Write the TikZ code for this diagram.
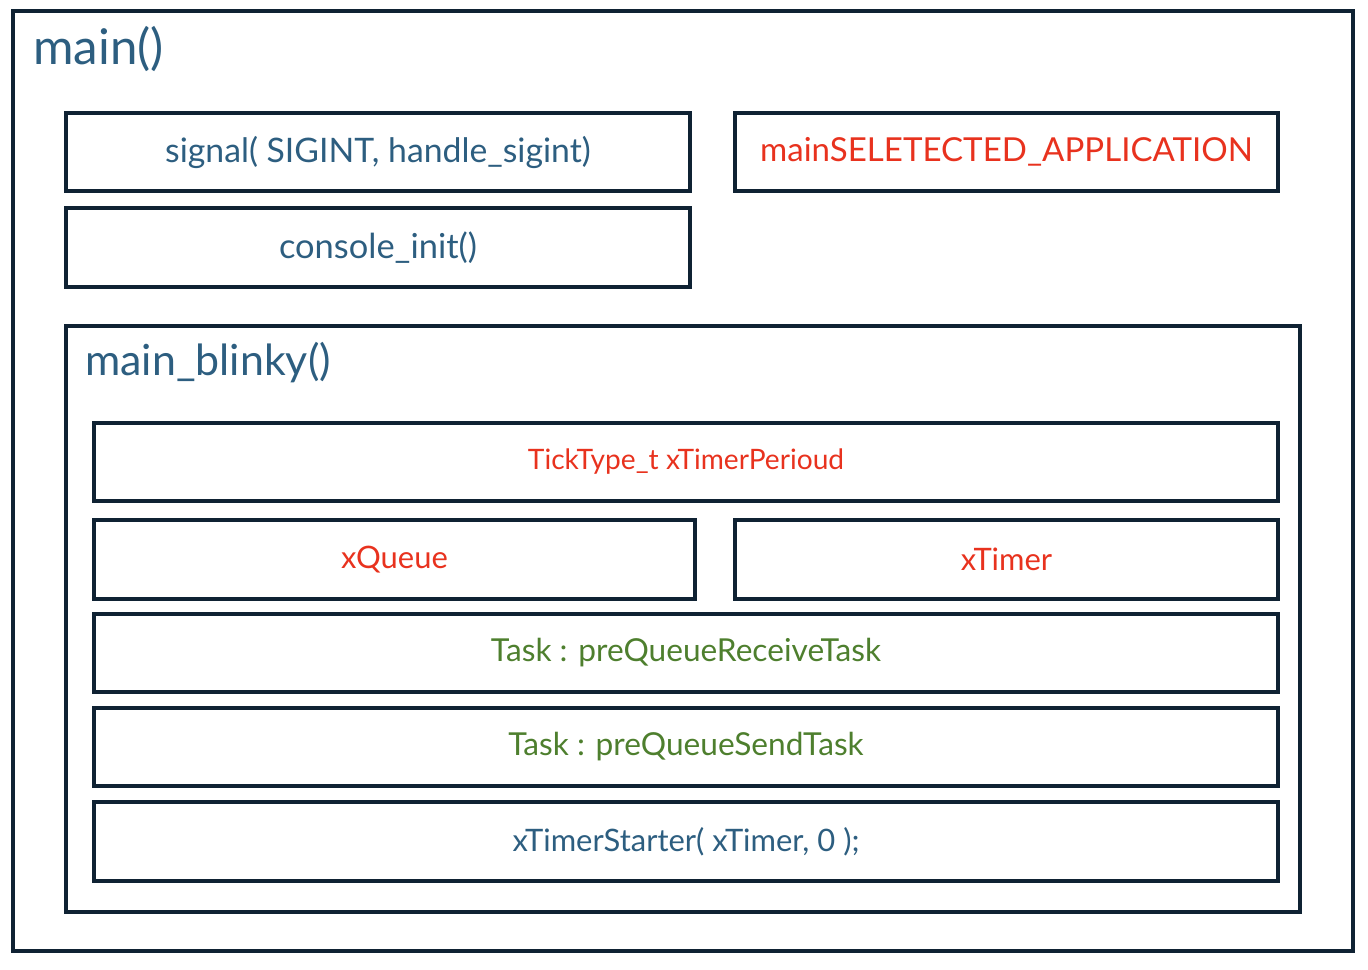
\documentclass[tikz,border=0pt]{standalone}
\usepackage{fontspec}
\setmainfont{Lato}
\definecolor{frame}{HTML}{0F2233}
\definecolor{codeblue}{HTML}{2D5E80}
\definecolor{varred}{HTML}{E8321E}
\definecolor{taskgreen}{HTML}{4E7F2E}
\usetikzlibrary{positioning}
\tikzset{
  box/.style={draw=frame,line width=2.8pt,rectangle,inner sep=0pt,align=center,
              font=\fontsize{24}{28}\selectfont,text=codeblue},
  sz/.style 2 args={minimum width=#1*0.025cm,minimum height=#2*0.025cm},
  var/.style={box,text=varred,font=\fontsize{22}{26}\selectfont},
  task/.style={box,text=taskgreen,font=\fontsize{22.5}{26}\selectfont},
  title/.style={anchor=west,inner sep=0pt,text=codeblue}
}
\begin{document}
\begin{tikzpicture}[x=0.025cm,y=-0.025cm]
  \useasboundingbox (0,0) rectangle (1368,970);
  % outer frame: main()
  \node[box,sz={1340}{940}] (main) at (683,481) {};
  \node[title,font=\fontsize{35}{40}\selectfont] (maintitle) at (33,49) {main()};
  \node[box,sz={624}{78}] (signal) at (378,152) {signal( SIGINT, handle\_sigint)};
  \node[var,font=\fontsize{23.5}{28}\selectfont,sz={543}{78}] (app) at (1006.5,152) {mainSELETECTED\_APPLICATION};
  \node[box,font=\fontsize{24.5}{28}\selectfont,sz={624}{79}] (console) at (378,247.5) {console\_init()};
  % inner frame: main_blinky()
  \node[box,sz={1234}{586}] (blinky) at (683,619) {};
  \node[title,font=\fontsize{30.5}{35}\selectfont] (blinkytitle) at (85,363) {main\_blinky()};
  \node[var,font=\fontsize{20}{24}\selectfont,sz={1184}{78}] (tick) at (686,462) {TickType\_t xTimerPerioud};
  \node[var,sz={601}{79}] (queue) at (394.5,559.5) {xQueue};
  \node[var,sz={543}{79}] (timer) at (1006.5,559.5) {xTimer};
  \foreach \n/\y/\t in {recv/653/Task : preQueueReceiveTask,send/747/Task : preQueueSendTask}{
    \node[task,sz={1184}{78}] (\n) at (686,\y) {\t};
  }
  \node[task,text=codeblue,font=\fontsize{22}{26}\selectfont,sz={1184}{79}] (start) at (686,841.5) {xTimerStarter( xTimer, 0 );};
\end{tikzpicture}
\end{document}
